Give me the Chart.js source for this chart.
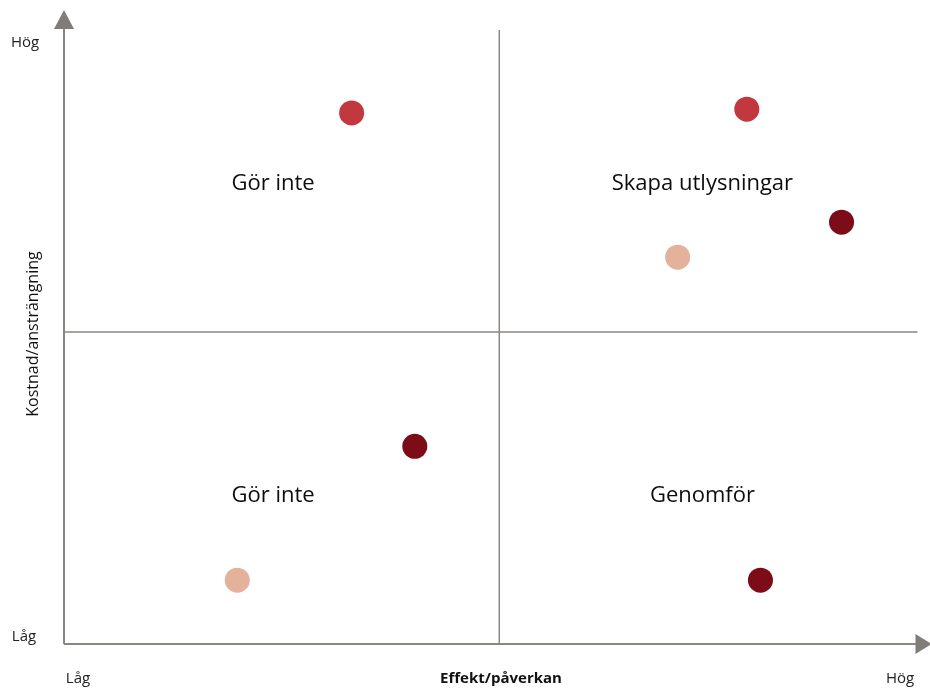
<!DOCTYPE html>
<html lang="sv">
<head>
<meta charset="UTF-8">
<title>Effekt/påverkan vs Kostnad/ansträngning</title>
<script src="https://cdn.jsdelivr.net/npm/chart.js"></script>
<style>
  html, body { margin: 0; padding: 0; background: #fff; }
  #wrap { width: 930px; height: 688px; }
</style>
</head>
<body>
<div id="wrap"><canvas id="myChart" width="930" height="688"></canvas></div>
<script>
  // data (scale 0-10 on both axes)
  const effekt  = [3.37, 8.0, 9.11, 7.19, 4.11, 2.03, 8.16];
  const kostnad = [8.65, 8.71, 6.87, 6.30, 3.22, 1.04, 1.04];
  const colors  = ['#c1393f', '#c1393f', '#7c0c18', '#e4b19b', '#7c0c18', '#e4b19b', '#7c0c18'];

  const midX = 5.1;   // quadrant split
  const midY = 5.08;

  const quadrants = [
    { text: 'Gör inte', x: 2.45, y: 7.5 },
    { text: 'Skapa utlysningar', x: 7.48, y: 7.5 },
    { text: 'Gör inte', x: 2.45, y: 2.42 },
    { text: 'Genomför', x: 7.48, y: 2.42 }
  ];

  const lineColor = '#8a8682';
  const font = '"Open Sans", "Noto Sans", sans-serif';

  const matrixPlugin = {
    id: 'matrix',
    beforeDatasetsDraw(chart) {
      const { ctx, chartArea: a, scales: { x, y } } = chart;
      ctx.save();
      ctx.strokeStyle = lineColor;

      // quadrant split lines
      ctx.lineWidth = 1.5;
      ctx.beginPath();
      ctx.moveTo(x.getPixelForValue(midX), a.top);
      ctx.lineTo(x.getPixelForValue(midX), a.bottom);
      ctx.moveTo(a.left, y.getPixelForValue(midY));
      ctx.lineTo(a.right, y.getPixelForValue(midY));
      ctx.stroke();

      // axes
      ctx.lineWidth = 2;
      ctx.beginPath();
      ctx.moveTo(a.left, a.bottom);
      ctx.lineTo(a.left, a.top - 2);
      ctx.moveTo(a.left, a.bottom);
      ctx.lineTo(a.right + 2, a.bottom);
      ctx.stroke();

      // arrow heads
      ctx.fillStyle = '#807c78';
      ctx.beginPath();
      ctx.moveTo(a.left, a.top - 20);
      ctx.lineTo(a.left - 10, a.top - 1);
      ctx.lineTo(a.left + 10, a.top - 1);
      ctx.closePath();
      ctx.fill();
      ctx.beginPath();
      ctx.moveTo(a.right + 14, a.bottom);
      ctx.lineTo(a.right - 2, a.bottom - 10);
      ctx.lineTo(a.right - 2, a.bottom + 10);
      ctx.closePath();
      ctx.fill();

      // quadrant labels
      ctx.fillStyle = '#0d0d0d';
      ctx.font = '22px ' + font;
      ctx.textAlign = 'center';
      ctx.textBaseline = 'middle';
      quadrants.forEach(q => ctx.fillText(q.text, x.getPixelForValue(q.x), y.getPixelForValue(q.y)));

      // axis end labels
      ctx.font = '15px ' + font;
      ctx.fillStyle = '#222';
      ctx.fillText('Hög', 25, 43);
      ctx.fillText('Låg', 24, 637);
      ctx.fillText('Låg', 78, 679);
      ctx.fillText('Hög', 900, 679);

      // axis titles
      ctx.fillStyle = '#111';
      ctx.font = 'bold 15px ' + font;
      ctx.fillText('Effekt/påverkan', 501, 679);
      ctx.translate(33, 334);
      ctx.rotate(-Math.PI / 2);
      ctx.font = '16px ' + font;
      ctx.fillText('Kostnad/ansträngning', 0, 0);
      ctx.restore();
    }
  };

  new Chart(document.getElementById('myChart'), {
    type: 'scatter',
    data: {
      datasets: [{
        data: effekt.map((v, i) => ({ x: v, y: kostnad[i] })),
        backgroundColor: colors,
        borderWidth: 0,
        pointRadius: 12.5,
        pointHoverRadius: 12.5
      }]
    },
    options: {
      responsive: false,
      animation: false,
      layout: { padding: { left: 64, right: 12, top: 30, bottom: 44 } },
      plugins: { legend: { display: false }, tooltip: { enabled: false } },
      scales: {
        x: { type: 'linear', min: 0, max: 10, display: false },
        y: { type: 'linear', min: 0, max: 10, display: false }
      }
    },
    plugins: [matrixPlugin]
  });
</script>
</body>
</html>
